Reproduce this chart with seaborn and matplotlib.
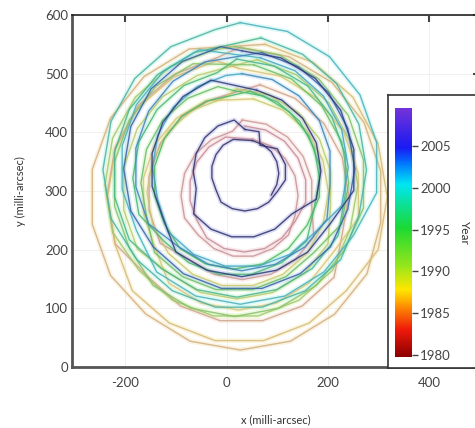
"""
Polar motion 1980-2008, coloured by year
"""

import pandas as pd
import seaborn as sns
import matplotlib
matplotlib.use("Agg")
import matplotlib.pyplot as plt
from matplotlib.colors import LinearSegmentedColormap, Normalize
from matplotlib.cm import ScalarMappable

# one loop of the wobble = 18 samples
PTS_PER_LOOP = 18

# year (middle of each loop) used for the colour
loop_year = [1980.6, 1981.8, 1983.0, 1984.2, 1985.4, 1986.6, 1987.8, 1989.0,
             1990.2, 1991.4, 1992.6, 1993.8, 1995.0, 1996.2, 1997.4, 1998.6,
             1999.8, 2001.0, 2002.2, 2003.4, 2004.6, 2005.8, 2007.0, 2007.8]

# pole position, milli-arcsec
x_mas = [
    35, 77, 114, 141, 156, 156, 135, 109, 75, 35, -5, -39, -59, -72, -72, -59, -35, -2,
    52, 87, 116, 135, 141, 135, 122, 91, 53, 13, -25, -56, -83, -90, -83, -61, -29, 12,
    31, 78, 120, 151, 168, 168, 172, 136, 87, 31, -25, -74, -131, -153, -153, -131, -89, -33,
    66, 135, 192, 228, 241, 228, 212, 149, 71, -13, -91, -154, -220, -236, -220, -174, -103, -17,
    27, 123, 208, 271, 304, 304, 277, 213, 126, 27, -72, -159, -229, -265, -265, -229, -163, -74,
    76, 171, 249, 299, 317, 299, 236, 163, 73, -23, -113, -186, -220, -235, -220, -175, -105, -20,
    24, 106, 178, 231, 260, 260, 210, 162, 98, 24, -50, -114, -142, -164, -164, -142, -99, -41,
    53, 111, 159, 190, 201, 190, 159, 111, 53, -9, -67, -115, -146, -157, -146, -115, -67, -9,
    20, 84, 141, 183, 205, 205, 200, 154, 91, 20, -51, -114, -176, -203, -203, -176, -126, -58,
    60, 138, 202, 244, 259, 244, 209, 143, 62, -26, -107, -173, -225, -240, -225, -180, -111, -27,
    16, 104, 182, 240, 270, 270, 232, 177, 102, 16, -70, -145, -192, -221, -221, -192, -139, -66,
    54, 128, 188, 227, 241, 227, 172, 117, 51, -21, -87, -142, -158, -169, -158, -126, -77, -17,
    15, 73, 124, 162, 183, 183, 159, 122, 72, 15, -42, -92, -123, -142, -142, -123, -88, -40,
    46, 100, 144, 173, 183, 173, 158, 109, 49, -15, -75, -124, -173, -185, -173, -137, -84, -18,
    20, 94, 160, 208, 234, 234, 220, 169, 99, 20, -59, -129, -192, -221, -221, -192, -137, -64,
    68, 150, 217, 261, 276, 261, 225, 155, 70, -22, -107, -177, -228, -244, -228, -181, -110, -23,
    27, 120, 203, 263, 296, 296, 250, 192, 115, 27, -61, -138, -178, -206, -206, -178, -125, -54,
    67, 135, 191, 227, 240, 227, 175, 125, 63, -3, -65, -115, -136, -146, -136, -105, -58, -1,
    30, 90, 143, 183, 204, 204, 198, 155, 96, 30, -36, -95, -154, -179, -179, -154, -106, -43,
    69, 141, 201, 239, 253, 239, 205, 145, 70, -10, -85, -145, -189, -203, -189, -149, -87, -11,
    30, 107, 175, 225, 251, 251, 205, 160, 99, 30, -39, -100, -126, -147, -147, -126, -86, -31,
    59, 109, 150, 177, 186, 177, 129, 95, 54, 10, -31, -65, -60, -66, -60, -43, -17, 15,
    36, 64, 66, 100, 116, 116, 100, 83, 61, 36, 11, -11, -21, -29, -29, -21, -7, 13,
    51, 72, 88, 99, 103, 99, 88,
]
y_mas = [
    411, 404, 385, 356, 319, 281, 248, 220, 202, 196, 202, 220, 251, 283, 317, 349, 375, 392,
    388, 377, 355, 326, 292, 258, 225, 202, 189, 189, 202, 225, 254, 292, 330, 364, 388, 402,
    421, 414, 392, 359, 318, 274, 222, 183, 158, 149, 158, 183, 211, 267, 325, 381, 426, 455,
    481, 458, 415, 358, 292, 226, 153, 104, 79, 79, 104, 153, 210, 292, 374, 446, 499, 528,
    545, 529, 485, 417, 334, 246, 159, 90, 44, 29, 44, 90, 156, 243, 337, 424, 495, 542,
    550, 519, 460, 380, 290, 200, 130, 75, 45, 45, 75, 130, 209, 290, 371, 442, 494, 522,
    509, 496, 458, 400, 330, 254, 195, 143, 109, 97, 109, 143, 205, 262, 322, 379, 424, 454,
    457, 438, 402, 353, 298, 243, 194, 158, 139, 139, 158, 194, 243, 298, 353, 402, 438, 457,
    474, 464, 434, 389, 334, 274, 210, 160, 127, 116, 127, 160, 201, 268, 340, 407, 461, 497,
    524, 498, 450, 384, 310, 236, 165, 114, 87, 87, 114, 165, 230, 310, 390, 460, 512, 540,
    546, 532, 491, 429, 353, 271, 199, 139, 100, 86, 100, 139, 203, 274, 350, 421, 479, 517,
    515, 491, 445, 384, 314, 244, 195, 154, 132, 132, 154, 195, 257, 314, 371, 421, 458, 478,
    471, 462, 435, 394, 344, 290, 242, 202, 176, 167, 176, 202, 245, 292, 342, 389, 428, 453,
    470, 452, 419, 373, 322, 271, 215, 178, 158, 158, 178, 215, 260, 322, 384, 439, 480, 502,
    525, 513, 479, 426, 362, 294, 224, 168, 132, 119, 132, 168, 217, 290, 367, 439, 498, 536,
    561, 533, 483, 414, 336, 258, 183, 130, 102, 102, 130, 183, 253, 336, 419, 492, 546, 575,
    587, 572, 529, 464, 383, 297, 224, 162, 121, 107, 121, 162, 233, 303, 377, 447, 504, 541,
    527, 505, 462, 405, 340, 275, 230, 192, 172, 172, 192, 230, 285, 340, 395, 443, 478, 497,
    500, 490, 462, 420, 368, 312, 252, 205, 175, 164, 175, 205, 244, 307, 373, 436, 487, 520,
    536, 512, 468, 407, 338, 269, 205, 159, 134, 134, 159, 205, 266, 338, 410, 474, 521, 546,
    539, 527, 492, 438, 371, 301, 245, 196, 165, 154, 165, 196, 255, 308, 364, 417, 461, 489,
    472, 455, 424, 382, 334, 286, 261, 235, 222, 222, 235, 261, 304, 334, 364, 391, 411, 421,
    405, 401, 378, 372, 345, 319, 299, 281, 270, 266, 270, 281, 302, 322, 342, 362, 378, 388,
    386, 379, 367, 350, 330, 311, 293,
]

year_ticks = [1980, 1985, 1990, 1995, 2000, 2005]
year_min, year_max = 1979.8, 2009.5

stops = [0.00, 0.11, 0.21, 0.27, 0.36, 0.52, 0.695, 0.78, 0.843, 1.00]
bar_colors = ["#8c0000", "#f01a0a", "#ff9a00", "#ffe600", "#9be61a",
              "#1ad933", "#00e6f2", "#0073ff", "#1a1af2", "#7333d9"]
# the tracks look washed out, blue/purple ones dark
core_colors = ["#c08898", "#c89a98", "#d2b478", "#d8c47c", "#b4c870",
               "#4cb466", "#48aec4", "#3872b0", "#28346e", "#34285e"]
halo_colors = ["#f0b8c8", "#f4c8c0", "#f4dc98", "#f6ec98", "#d8f098",
               "#98ec98", "#98eef5", "#98c4f5", "#9098e0", "#a090d8"]
cmap = LinearSegmentedColormap.from_list("years", list(zip(stops, bar_colors)))
cmap_core = LinearSegmentedColormap.from_list("years_core", list(zip(stops, core_colors)))
cmap_halo = LinearSegmentedColormap.from_list("years_halo", list(zip(stops, halo_colors)))
norm = Normalize(year_min, year_max)

# table for seaborn: every loop also gets the first point of the next one
rows = []
for i, yr in enumerate(loop_year):
    a = i * PTS_PER_LOOP
    b = min(a + PTS_PER_LOOP + 1, len(x_mas))
    for k in range(a, b):
        rows.append((x_mas[k], y_mas[k], yr))
df = pd.DataFrame(rows, columns=["x", "y", "year"])

sns.set_style("white")
plt.rcParams["font.family"] = ["Lato", "DejaVu Sans"]
plt.rcParams["axes.unicode_minus"] = False

fig = plt.figure(figsize=(4.75, 4.28), dpi=100)
ax = fig.add_axes([0.1516, 0.1425, 0.859, 0.8224])
ax.grid(True, color="#eeeeee", lw=0.6)
# soft pale halo, then a thin core
sns.lineplot(data=df, x="x", y="y", hue="year", palette=cmap_halo, hue_norm=norm,
             sort=False, estimator=None, legend=False, lw=3.4, alpha=0.3, ax=ax)
sns.lineplot(data=df, x="x", y="y", hue="year", palette=cmap_core, hue_norm=norm,
             sort=False, estimator=None, legend=False, lw=1.0, alpha=0.85, ax=ax)

ax.set_xlim(-305, 500)
ax.set_ylim(0, 600)
ax.set_xticks([-200, 0, 200, 400])
ax.set_yticks([0, 100, 200, 300, 400, 500, 600])
for side in ["left", "bottom"]:
    ax.spines[side].set_linewidth(2)
    ax.spines[side].set_color("#555555")
for side in ["top", "right"]:
    ax.spines[side].set_linewidth(1.2)
    ax.spines[side].set_color("#222222")
ax.tick_params(direction="in", length=5, width=1.5, color="#444444",
               labelcolor="#444444", labelsize=9.5, top=True, right=True)
ax.tick_params(axis="x", pad=7)
ax.tick_params(axis="y", pad=3)

ax.set_xlabel("x (milli-arcsec)", fontsize=8, color="#333333")
ax.set_ylabel("y (milli-arcsec)", fontsize=8, color="#333333")
ax.xaxis.label.set_va("center")
ax.yaxis.label.set_va("center")
ax.xaxis.set_label_coords(0.5, -0.15)
ax.yaxis.set_label_coords(-0.127, 0.5)

# colour bar inside a white framed box
box = fig.add_axes([0.817, 0.140, 0.2, 0.638])
box.set_xticks([])
box.set_yticks([])
box.set_facecolor("white")
for s in box.spines.values():
    s.set_color("#333333")
    s.set_linewidth(1.2)

cax = fig.add_axes([0.8316, 0.1659, 0.0358, 0.5818])
cb = fig.colorbar(ScalarMappable(norm=norm, cmap=cmap), cax=cax, ticks=year_ticks)
cb.outline.set_visible(False)
cax.tick_params(length=4, width=1, color="#444444", labelcolor="#444444",
                labelsize=9.5, pad=2)
cb.set_label("Year", rotation=270, fontsize=8.5, color="#333333", va="center")
cax.yaxis.set_label_coords(4.1, 0.5)

fig.savefig("out.png", dpi=100)
